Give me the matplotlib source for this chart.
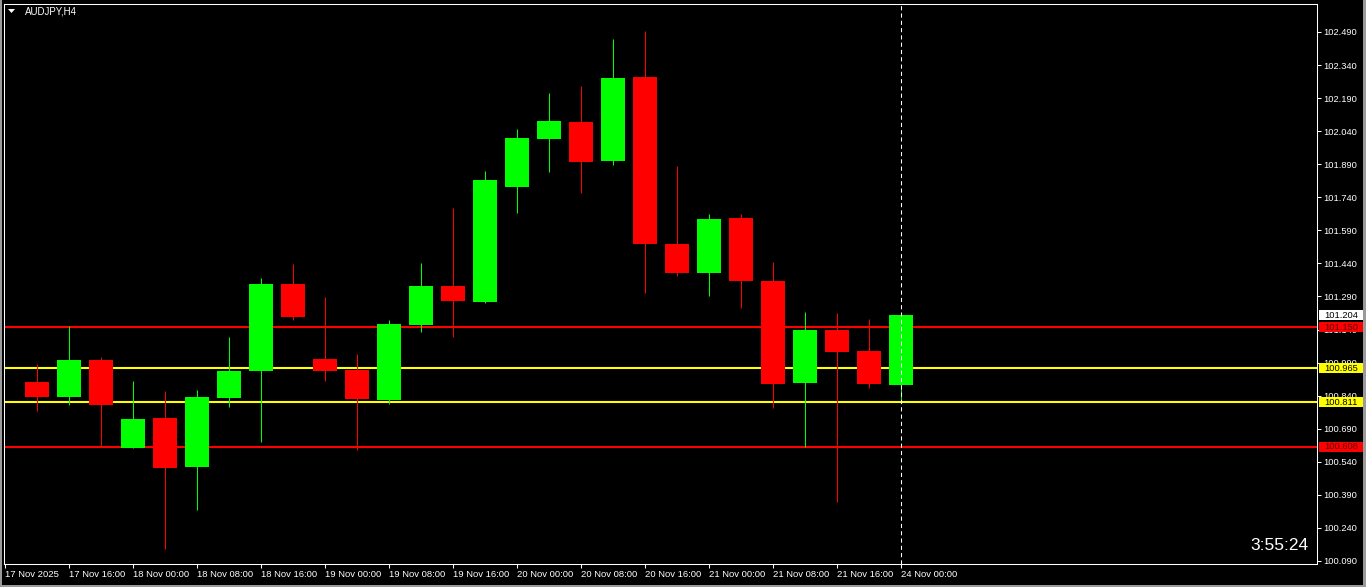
import matplotlib
matplotlib.use("Agg")
import matplotlib.pyplot as plt
import matplotlib.transforms as mtransforms
from matplotlib.patches import Rectangle, Polygon
import numpy as np

# AUDJPY H4 candles, 17 Nov 12:00 .. 24 Nov 00:00
opens = [100.902, 100.834, 101.002, 100.603, 100.739, 100.516, 100.829, 100.952,
         101.347, 101.006, 100.956, 100.820, 101.161, 101.338, 101.265, 101.787,
         102.005, 102.082, 101.905, 102.285, 101.528, 101.397, 101.646, 101.360,
         100.898, 101.138, 101.043, 100.888]
highs = [100.984, 101.156, 101.015, 100.907, 100.861, 100.866, 101.106, 101.374,
         101.437, 101.288, 101.029, 101.183, 101.442, 101.691, 101.859, 102.050,
         102.213, 102.245, 102.458, 102.495, 101.882, 101.664, 101.664, 101.446,
         101.220, 101.215, 101.188, 101.204]
lows = [100.770, 100.798, 100.612, 100.603, 100.144, 100.321, 100.789, 100.630,
        101.183, 100.907, 100.594, 100.802, 101.129, 101.108, 101.262, 101.669,
        101.855, 101.760, 101.887, 101.306, 101.385, 101.292, 101.238, 100.784,
        100.607, 100.358, 100.875, 100.811]
closes = [100.834, 101.002, 100.798, 100.734, 100.512, 100.834, 100.952, 101.347,
          101.197, 100.952, 100.825, 101.165, 101.338, 101.270, 101.819, 102.009,
          102.086, 101.900, 102.281, 101.528, 101.397, 101.642, 101.360, 100.893,
          101.138, 101.038, 100.893, 101.204]

# horizontal levels (price, colour)
level_prices = [101.150, 100.965, 100.811, 100.608]
level_colors = ['#FF0000', '#FFFF00', '#FFFF00', '#FF0000']

# time axis labels, every second bar starting one bar before the first candle
time_labels = ['17 Nov 2025', '17 Nov 16:00', '18 Nov 00:00', '18 Nov 08:00',
               '18 Nov 16:00', '19 Nov 00:00', '19 Nov 08:00', '19 Nov 16:00',
               '20 Nov 00:00', '20 Nov 08:00', '20 Nov 16:00', '21 Nov 00:00',
               '21 Nov 08:00', '21 Nov 16:00', '24 Nov 00:00']
price_ticks = [102.490, 102.340, 102.190, 102.040, 101.890, 101.740, 101.590,
               101.440, 101.290, 101.140, 100.990, 100.840, 100.690, 100.540,
               100.390, 100.240, 100.090]

last_price = 101.204
timer_text = '3:55:24'

UP = '#00FF00'
DOWN = '#FF0000'
FONT = 'Liberation Sans'

W, H = 1366, 587
PX_PER_PRICE = 529 / 2.4   # 102.490 -> y 32, 100.090 -> y 561

fig = plt.figure(figsize=(W / 100, H / 100), dpi=100, facecolor='black')
# axes box in pixels: x 4..1317, y 4..564 (from top)
ax = fig.add_axes([4 / W, (H - 564) / H, 1313 / W, 560 / H], facecolor='black')

n = len(opens)
x = np.arange(n)
o = np.array(opens)
c = np.array(closes)
cols = [UP if cc >= oo else DOWN for oo, cc in zip(o, c)]

# wicks then bodies
ax.vlines(x, lows, highs, colors=cols, linewidth=0.75, zorder=3)
ax.bar(x, np.abs(c - o), bottom=np.minimum(o, c), width=0.78,
       color=cols, linewidth=0, zorder=4)

# levels (behind candles, chart in foreground)
for p, col in zip(level_prices, level_colors):
    ax.axhline(p, color=col, linewidth=1.5, zorder=2)

# vertical dashed line on the last bar
ax.axvline(x[-1], color='white', linewidth=0.75, dashes=(4, 3), zorder=5)

ax.set_xlim((4 - 37) / 32, (1317 - 37) / 32)
ax.set_ylim(100.09 - 3 / PX_PER_PRICE, 102.49 + 28 / PX_PER_PRICE)

for s in ax.spines.values():
    s.set_color('white')
    s.set_linewidth(0.75)

# x axis
ax.set_xticks(np.arange(-1, n, 2))
ax.set_xticklabels(time_labels)
ax.tick_params(axis='x', colors='white', length=3, width=0.75, pad=1.5,
               labelsize=6.8)
for lbl in ax.get_xticklabels():
    lbl.set_ha('left')
    lbl.set_fontfamily(FONT)

# y axis on the right
ax.yaxis.tick_right()
ax.set_yticks(price_ticks)
ax.set_yticklabels([f'{p:.3f}' for p in price_ticks])
ax.tick_params(axis='y', colors='white', length=3, width=0.75, pad=1.5,
               labelsize=6.7)
for lbl in ax.get_yticklabels():
    lbl.set_fontfamily(FONT)

# price tags on the right scale (box 44 x 10 px)
trans = mtransforms.blended_transform_factory(ax.transAxes, ax.transData)
tags = [(last_price, 'white', 'black')]
for p, col in zip(level_prices, level_colors):
    tags.append((p, col, '#5a0000' if col == '#FF0000' else 'black'))
half_h = 5 / PX_PER_PRICE
for p, bg, fg in tags:
    box = Rectangle((1.0 + 2 / 1313, p - half_h), 44 / 1313, 2 * half_h,
                    transform=trans, facecolor=bg, edgecolor='none',
                    clip_on=False, zorder=9)
    ax.add_patch(box)
    ax.text(1.0 + 24 / 1313, p, f'{p:.3f}', transform=trans, ha='center',
            va='center', fontsize=6.7, family=FONT, color=fg, zorder=10,
            clip_on=False)

# symbol label with small triangle
ax.text(21 / 1313, 1 - 7 / 560, 'AUDJPY,H4', transform=ax.transAxes, ha='left',
        va='center', color='white', fontsize=7, family=FONT)
tri = Polygon([[8 / W, 1 - 9 / H], [15 / W, 1 - 9 / H], [11.5 / W, 1 - 13 / H]],
              closed=True, transform=fig.transFigure, facecolor='white',
              edgecolor='none')
fig.patches.append(tri)

# bar countdown
fig.text(1308 / W, 1 - 545 / H, timer_text, ha='right', va='center',
         color='white', fontsize=12.5, family=FONT)

# grey window edges
for rx, ry, rw, rh in [(0, 0, 2, H), (1363, 0, 3, H), (0, H - 2, W, 2)]:
    fig.patches.append(Rectangle((rx / W, 1 - (ry + rh) / H), rw / W, rh / H,
                                 transform=fig.transFigure, facecolor='#9a9a9a',
                                 edgecolor='none'))

fig.savefig('out.png', dpi=100, facecolor='black')
